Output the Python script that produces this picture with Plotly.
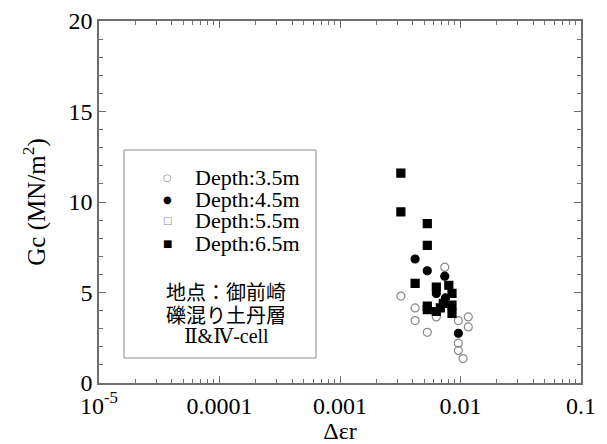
import plotly.graph_objects as go

# ---- data ----
x_35 = [0.0032, 0.0074, 0.0042, 0.0042, 0.0053, 0.0063, 0.0096, 0.0116, 0.0116, 0.0096, 0.0096, 0.0105]
y_35 = [4.8, 6.4, 4.15, 3.45, 2.8, 3.65, 3.45, 3.65, 3.1, 2.2, 1.8, 1.35]

x_45 = [0.0042, 0.0053, 0.0074, 0.0063, 0.0075, 0.0096]
y_45 = [6.85, 6.2, 5.9, 4.95, 4.7, 2.75]

x_55 = [None]
y_55 = [None]

x_65 = [0.0032, 0.0032, 0.0053, 0.0053, 0.0042, 0.0063, 0.0080, 0.0085,
        0.0053, 0.0053, 0.0063, 0.0068, 0.0072, 0.0085, 0.0085]
y_65 = [11.6, 9.45, 8.8, 7.6, 5.5, 5.3, 5.4, 4.95,
        4.25, 4.05, 3.95, 4.15, 4.4, 4.3, 3.85]

x_tickvals = [1e-5, 1e-4, 1e-3, 1e-2, 1e-1]
x_ticktext = ["10<sup>-5</sup>", "0.0001", "0.001", "0.01", "0.1"]
x_minor = [m * 10 ** e for e in range(-5, -1) for m in range(2, 10)]

series_names = ["Depth:3.5m", "Depth:4.5m", "Depth:5.5m", "Depth:6.5m"]
legend_glyphs = ["○", "●", "□", "■"]
note_lines = ["地点：御前崎", "礫混り土丹層", "Ⅱ&Ⅳ-cell"]

GREY = "#8a8a8a"
AXC = "#6e6e6e"
SERIF = "Liberation Serif, Times New Roman, serif"
SERIF_X = "Liberation Serif, DejaVu Serif, Noto Sans CJK JP, serif"
CJK = "Noto Sans CJK JP, sans-serif"
series_colors = [GREY, "black", GREY, "black"]
series_symbols = ["circle-open", "circle", "square-open", "square"]

fig = go.Figure()
for xs, ys, name, sym, col in zip([x_35, x_45, x_55, x_65], [y_35, y_45, y_55, y_65],
                                  series_names, series_symbols, series_colors):
    fig.add_trace(go.Scatter(x=xs, y=ys, mode="markers", name=name, showlegend=False,
                             marker=dict(symbol=sym, size=8, color=col, line=dict(width=1.2, color=col))))

# page body adds an 8 px offset; work in figure coordinates
OFF = 8
W, H = 607 - OFF, 444 - OFF
L, T = 99 - OFF, 21 - OFF
R = W - (581 - OFF)
B = H - (383 - OFF)
pw, ph = W - L - R, H - T - B

def px(xp):
    return (xp - OFF - L) / pw

def py(yp):
    return (H - B - (yp - OFF)) / ph

# legend box
fig.add_shape(type="rect", xref="paper", yref="paper",
              x0=px(124), x1=px(316), y0=py(358), y1=py(150),
              line=dict(color=GREY, width=1), fillcolor="rgba(0,0,0,0)")

for name, g, col, yp in zip(series_names, legend_glyphs, series_colors, [177, 199, 221, 243]):
    fig.add_annotation(text=g, xref="paper", yref="paper", x=px(167), y=py(yp),
                       showarrow=False, xanchor="center", yanchor="middle",
                       font=dict(family="DejaVu Sans", size=10, color=col))
    fig.add_annotation(text=name, xref="paper", yref="paper", x=px(193), y=py(yp),
                       showarrow=False, xanchor="left", yanchor="middle",
                       font=dict(family=SERIF, size=22, color="black"))

for i, (txt, yp) in enumerate(zip(note_lines, [292, 314, 336])):
    fig.add_annotation(text=txt, xref="paper", yref="paper", x=px(226), y=py(yp),
                       showarrow=False, xanchor="center", yanchor="middle",
                       font=dict(family=CJK if i < 2 else SERIF_X, size=20, color="black"))

axis_common = dict(showline=True, linecolor=AXC, linewidth=1.5, mirror="ticks",
                   ticks="inside", ticklen=7, tickwidth=1.2, tickcolor=AXC,
                   showgrid=False, zeroline=False, automargin=False,
                   tickfont=dict(family=SERIF, size=24, color="black"))

fig.update_xaxes(type="log", range=[-5, -1], tickvals=x_tickvals, ticktext=x_ticktext,
                 minor=dict(tickvals=x_minor, ticks="inside", ticklen=4, tickcolor=AXC, showgrid=False),
                 title=dict(text="Δεr", font=dict(family=SERIF, size=24, color="black"), standoff=0),
                 **axis_common)
fig.update_yaxes(range=[0, 20], dtick=5, tick0=0,
                 minor=dict(dtick=1, ticks="inside", ticklen=4, tickcolor=AXC, showgrid=False),
                 title=dict(text="Gc (MN/m<sup>2</sup>)", font=dict(family=SERIF, size=25, color="black"), standoff=16),
                 **axis_common)

fig.update_layout(
    width=W, height=H,
    margin=dict(l=L, r=R, t=T, b=B),
    paper_bgcolor="white", plot_bgcolor="white",
    showlegend=False,
)

fig.write_html("out.html")
